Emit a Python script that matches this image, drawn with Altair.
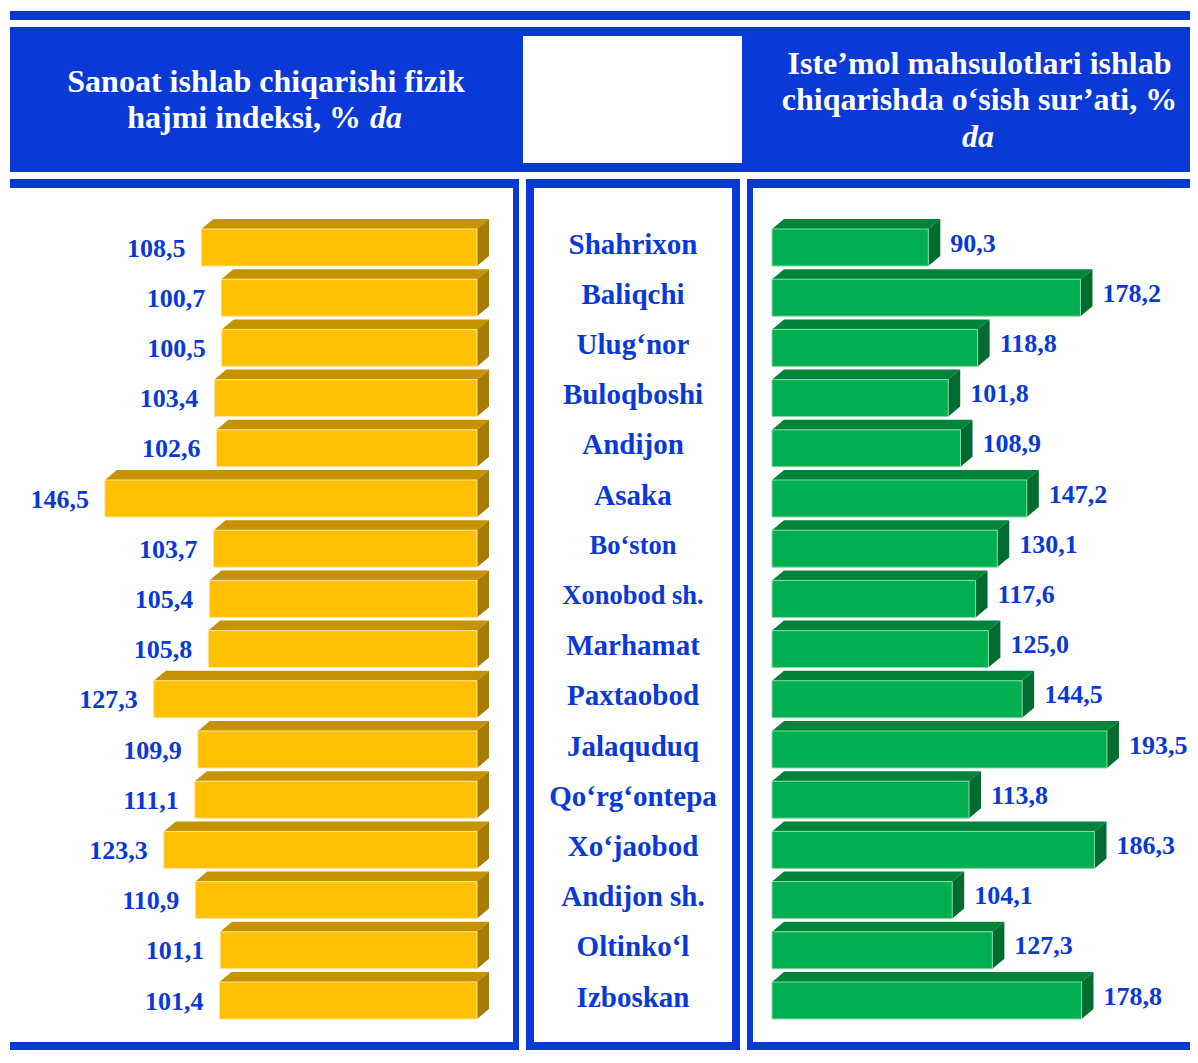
import altair as alt
import pandas as pd

# ---------------- data ----------------
districts = ["Shahrixon", "Baliqchi", "Ulug‘nor", "Buloqboshi", "Andijon", "Asaka",
             "Bo‘ston", "Xonobod sh.", "Marhamat", "Paxtaobod", "Jalaquduq",
             "Qo‘rg‘ontepa", "Xo‘jaobod", "Andijon sh.", "Oltinko‘l", "Izboskan"]
industry_index = [108.5, 100.7, 100.5, 103.4, 102.6, 146.5, 103.7, 105.4,
                  105.8, 127.3, 109.9, 111.1, 123.3, 110.9, 101.1, 101.4]
consumer_growth = [90.3, 178.2, 118.8, 101.8, 108.9, 147.2, 130.1, 117.6,
                   125.0, 144.5, 193.5, 113.8, 186.3, 104.1, 127.3, 178.8]
left_title = ["Sanoat ishlab chiqarishi fizik", "hajmi indeksi, %", "da"]
right_title = ["Iste’mol mahsulotlari ishlab", "chiqarishda o‘sish sur’ati, %", "da"]
small_names = ["Bo‘ston", "Xonobod sh."]

# ---------------- styling ----------------
BLUE = "#0939D6"
FONT = "Liberation Serif"
OR_FRONT, OR_TOP, OR_SIDE, OR_EDGE = "#FFC000", "#C69200", "#A67B00", "#FFE49A"
GR_FRONT, GR_TOP, GR_SIDE, GR_EDGE = "#00B050", "#00843A", "#006C2F", "#86D9A9"

W, H = 1182, 1042
HALF = 18.5 / 50.2   # half front height in row units
DEP = 10 / 50.2      # 3D depth (vertical) in row units
DXL = 12 / 2.54      # 3D depth (horizontal) in left-scale units
DXR = 12 / 1.731     # 3D depth (horizontal) in right-scale units

yscale = alt.Scale(domain=[0, 15], range=[239.5, 992.5], nice=False, zero=False)
lscale = alt.Scale(domain=[-10, 180], range=[469 + 10 * 2.54, 469 - 180 * 2.54], nice=False, zero=False)
rscale = alt.Scale(domain=[0, 220], range=[764, 764 + 220 * 1.731], nice=False, zero=False)


def fmt(v):
    return f"{v:.1f}".replace(".", ",")


# ---------------- tables built from the arrays ----------------
rows = pd.DataFrame({
    "i": range(len(districts)),
    "name": districts,
    "ind": industry_index,
    "con": consumer_growth,
})
rows["ind_lab"] = [fmt(v) for v in industry_index]
rows["con_lab"] = [fmt(v) for v in consumer_growth]
rows["yt"] = rows["i"] - HALF
rows["yb"] = rows["i"] + HALF
rows["zero"] = 0.0

topL, sideL, topR, sideR = [], [], [], []
for i, a, b in zip(rows["i"], industry_index, consumer_growth):
    topL += [dict(i=i, y=i - HALF, x=a, x2=0.0), dict(i=i, y=i - HALF - DEP, x=a - DXL, x2=-DXL)]
    sideL += [dict(i=i, x=0.0, y=i - HALF, y2=i + HALF), dict(i=i, x=-DXL, y=i - HALF - DEP, y2=i + HALF - DEP)]
    topR += [dict(i=i, y=i - HALF, x=0.0, x2=b), dict(i=i, y=i - HALF - DEP, x=DXR, x2=b + DXR)]
    sideR += [dict(i=i, x=b, y=i - HALF, y2=i + HALF), dict(i=i, x=b + DXR, y=i - HALF - DEP, y2=i + HALF - DEP)]
topL, sideL, topR, sideR = map(pd.DataFrame, (topL, sideL, topR, sideR))

dummy = pd.DataFrame({"d": [0]})


def rect(x0, x1, y0, y1, color=BLUE):
    return alt.Chart(dummy).mark_rect(color=color).encode(
        x=alt.value(x0), x2=alt.value(x1), y=alt.value(y0), y2=alt.value(y1))


def label(txt, x, y, align="center", size=32, style="normal"):
    return alt.Chart(dummy).mark_text(
        text=txt, font=FONT, fontSize=size, fontWeight="bold", fontStyle=style,
        color="white", align=align, baseline="alphabetic").encode(
        x=alt.value(x), y=alt.value(y))


# ---------------- frame / header ----------------
R = W          # right edge of the drawing
B0, B1 = H - 8, H     # bottom line
frame = [
    rect(2, R, 3, 12),               # top line
    rect(2, R, 19, 164),             # header band
    rect(515, 734, 28, 155, "white"),  # white box in header
    # left panel
    rect(2, 511, 171, 180), rect(505, 511, 171, B1), rect(2, 511, B0, B1),
    # middle panel
    rect(518, 732, 171, 180), rect(518, 526, 171, B1), rect(724, 732, 171, B1),
    rect(518, 732, B0, B1),
    # right panel
    rect(739, R, 171, 180), rect(739, 745, 171, B1), rect(739, R, B0, B1),
]
headers = [
    label(left_title[0], 258, 84),
    label(left_title[1], 353, 120, align="right"),
    label(left_title[2], 362, 120, align="left", style="italic"),
    label(right_title[0], 971.5, 66),
    label(right_title[1], 971.5, 102),
    label(right_title[2], 970, 139, style="italic"),
]

# ---------------- bars ----------------
Y = lambda f: alt.Y(f, type="quantitative", scale=yscale, axis=None)
XL = lambda f: alt.X(f, type="quantitative", scale=lscale, axis=None)
XR = lambda f: alt.X(f, type="quantitative", scale=rscale, axis=None)

left = alt.layer(
    alt.Chart(topL).mark_area(orient="horizontal", color=OR_TOP).encode(
        x=XL("x"), x2="x2", y=Y("y"), detail="i:N"),
    alt.Chart(sideL).mark_area(orient="vertical", color=OR_SIDE).encode(
        x=XL("x"), y=Y("y"), y2="y2", detail="i:N"),
    alt.Chart(rows).mark_rect(color=OR_FRONT, stroke=OR_EDGE, strokeWidth=1).encode(
        x=XL("ind"), x2="zero", y=Y("yt"), y2="yb"),
    alt.Chart(rows).mark_text(font=FONT, fontSize=26, fontWeight="bold", color=BLUE,
                              align="right", baseline="middle", dx=-16, dy=1).encode(
        x=XL("ind"), y=Y("i"), text="ind_lab"),
)

right = alt.layer(
    alt.Chart(topR).mark_area(orient="horizontal", color=GR_TOP).encode(
        x=XR("x"), x2="x2", y=Y("y"), detail="i:N"),
    alt.Chart(sideR).mark_area(orient="vertical", color=GR_SIDE).encode(
        x=XR("x"), y=Y("y"), y2="y2", detail="i:N"),
    alt.Chart(rows).mark_rect(color=GR_FRONT, stroke=GR_EDGE, strokeWidth=1).encode(
        x=XR("zero"), x2="con", y=Y("yt"), y2="yb"),
    alt.Chart(rows).mark_text(font=FONT, fontSize=26, fontWeight="bold", color=BLUE,
                              align="left", baseline="middle", dx=22, dy=-4).encode(
        x=XR("con"), y=Y("i"), text="con_lab"),
)

names = alt.Chart(rows).mark_text(font=FONT, fontWeight="bold", color=BLUE,
                                  align="center", baseline="middle", dy=-3).encode(
    x=alt.value(625), y=Y("i"), text="name:N",
    size=alt.condition(alt.FieldOneOfPredicate(field="name", oneOf=small_names),
                       alt.value(26.5), alt.value(29)),
)

chart = alt.layer(*frame, *headers, left, right, names).resolve_scale(
    x="independent"
).properties(
    width=W, height=H, autosize="none", padding=0,
).configure_view(stroke=None)

chart.save("out.html", embed_options={"renderer": "svg", "actions": False})
